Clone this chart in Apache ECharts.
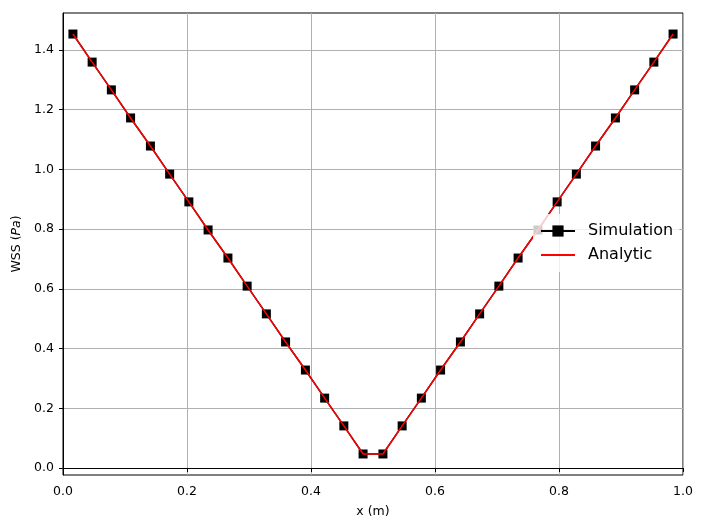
<!DOCTYPE html>
<html>
<head>
<meta charset="utf-8">
<script src="https://cdn.jsdelivr.net/npm/echarts@6/dist/echarts.min.js"></script>
<style>html,body{margin:0;padding:0;background:#fff}#c{width:704px;height:528px}</style>
</head>
<body>
<div id="c"></div>
<script>
var xValues = [0.016,0.047,0.078,0.109,0.141,0.172,0.203,0.234,0.266,0.297,0.328,0.359,0.391,0.422,0.453,0.484,
               0.516,0.547,0.578,0.609,0.641,0.672,0.703,0.734,0.766,0.797,0.828,0.859,0.891,0.922,0.953,0.984];
var simulation = [1.453,1.359,1.266,1.172,1.078,0.984,0.891,0.797,0.703,0.609,0.516,0.422,0.328,0.234,0.141,0.047,
                  0.047,0.141,0.234,0.328,0.422,0.516,0.609,0.703,0.797,0.891,0.984,1.078,1.172,1.266,1.359,1.453];
var analytic = [1.453,1.359,1.266,1.172,1.078,0.984,0.891,0.797,0.703,0.609,0.516,0.422,0.328,0.234,0.141,0.047,
                0.047,0.141,0.234,0.328,0.422,0.516,0.609,0.703,0.797,0.891,0.984,1.078,1.172,1.266,1.359,1.453];
var yTicks = [0.0,0.2,0.4,0.6,0.8,1.0,1.2,1.4];

var font = 'DejaVu Sans';
function pairs(xs, ys){ return xs.map(function(x,i){ return [x, ys[i]]; }); }

var chart = echarts.init(document.getElementById('c'), null, {renderer:'canvas'});
chart.setOption({
  animation: false,
  textStyle: {fontFamily: font},
  grid: {left: 63, right: 21, top: 13, bottom: 53, show: true, borderColor: '#000', borderWidth: 1, backgroundColor: 'transparent'},
  xAxis: {
    type: 'value', min: 0, max: 1, interval: 0.2,
    name: 'x (m)', nameLocation: 'middle', nameGap: 30,
    nameTextStyle: {fontFamily: font, fontSize: 12.5, color: '#000'},
    axisLine: {show: true, lineStyle: {color: '#000', width: 1}},
    axisTick: {show: true, inside: false, length: 4, lineStyle: {color: '#000'}},
    axisLabel: {fontFamily: font, fontSize: 12.5, color: '#000', margin: 10, formatter: function(v){ return v.toFixed(1); }},
    splitLine: {show: true, lineStyle: {color: '#b0b0b0', width: 1}}
  },
  yAxis: {
    type: 'value', min: -0.0234, max: 1.5234,
    name: 'WSS ({i|Pa})', nameLocation: 'middle', nameGap: 38, nameRotate: 90,
    nameTextStyle: {fontFamily: font, fontSize: 12.5, color: '#000', rich: {i: {fontStyle: 'italic', fontFamily: font, fontSize: 12.5, color: '#000'}}},
    axisLine: {show: true, lineStyle: {color: '#000', width: 1}},
    axisTick: {show: true, inside: false, length: 4, lineStyle: {color: '#000'}, customValues: yTicks},
    axisLabel: {fontFamily: font, fontSize: 12.5, color: '#000', margin: 9, customValues: yTicks, formatter: function(v){ return v.toFixed(1); }},
    splitLine: {show: true, lineStyle: {color: '#b0b0b0', width: 1}}
  },
  legend: {
    orient: 'vertical', left: 533, top: 214,
    padding: [9, 6, 9, 7],
    itemWidth: 34, itemHeight: 14, itemGap: 8,
    backgroundColor: 'rgba(255,255,255,0.8)', borderWidth: 0, borderRadius: 3,
    textStyle: {fontFamily: font, fontSize: 16, color: '#000', lineHeight: 16, padding: [0,0,0,8]},
    data: [
      {name: 'Simulation'},
      {name: 'Analytic', icon: 'path://M0,0 L34,0 L34,2 L0,2 Z'}
    ]
  },
  series: [
    {name: 'Simulation', type: 'line', data: pairs(xValues, simulation), symbol: 'rect', symbolSize: 9,
     itemStyle: {color: '#000'}, lineStyle: {color: '#000', width: 1.5}, z: 2},
    {name: 'Analytic', type: 'line', data: pairs(xValues, analytic), symbol: 'none', showSymbol: false,
     itemStyle: {color: '#ff0000'}, lineStyle: {color: '#ff0000', width: 1.5}, z: 3}
  ]
});
</script>
</body>
</html>
